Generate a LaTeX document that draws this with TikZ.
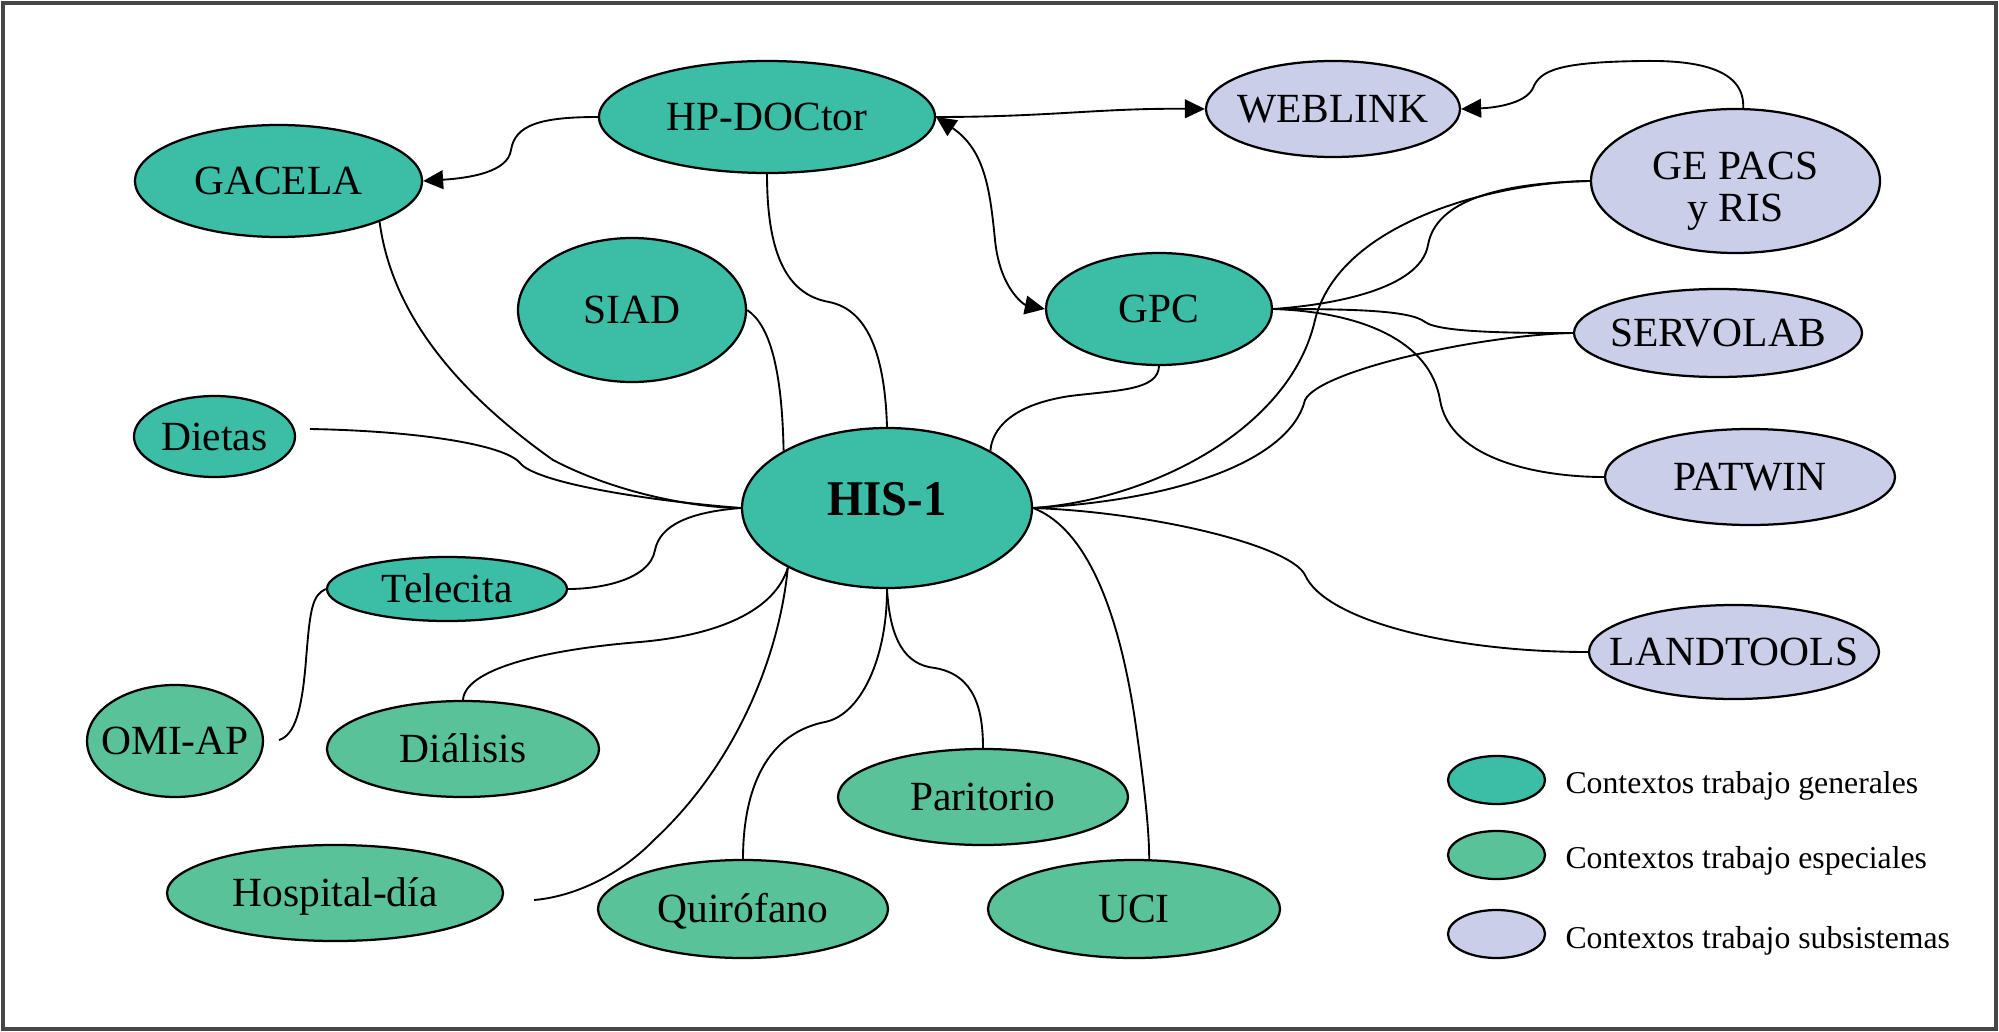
\documentclass[tikz,border=0pt]{standalone}
\usepackage{fontspec}
\setmainfont{Liberation Serif}
\newfontfamily\hisfont[FakeStretch=0.93]{Liberation Serif}
\usetikzlibrary{arrows.meta,shapes.geometric}
\definecolor{cgen}{RGB}{59,189,166}
\definecolor{cesp}{RGB}{90,194,153}
\definecolor{csub}{RGB}{203,206,233}
\definecolor{cframe}{RGB}{70,70,70}
\begin{document}
\begin{tikzpicture}[x=0.4pt,y=-0.4pt,
  ell/.style 2 args={ellipse,draw=black,line width=0.9pt,inner sep=0pt,
    minimum width=#1*0.8pt,minimum height=#2*0.8pt},
  gen/.style={fill=cgen}, esp/.style={fill=cesp}, sub/.style={fill=csub},
  lbl/.style={font=\fontsize{16.6pt}{19.9pt}\selectfont, text height=11pt, text depth=0pt},
  con/.style={draw=black, line width=0.75pt},
  tip/.style={-{Triangle[length=8pt,width=7.5pt]}},
  dtip/.style={{Triangle[length=8pt,width=7.5pt]}-{Triangle[length=8pt,width=7.5pt]}},
  leg/.style={font=\fontsize{12.7pt}{15pt}\selectfont, anchor=base west, inner sep=0pt}
]
\useasboundingbox (0,0) rectangle (1999,1032);
\fill[white] (0,0) rectangle (1999,1032);
\draw[cframe, line width=1.3pt] (3,3) rectangle (1996,1029);

% general contexts
\node[ell={168}{56}, gen, lbl] (hp) at (767,117) {\makebox[0pt]{HP-DOCtor}};
\node[ell={143.5}{56}, gen, lbl] (gacela) at (278.5,181) {\makebox[0pt]{GACELA}};
\node[ell={114}{72}, gen, lbl] (siad) at (632,310) {\makebox[0pt]{SIAD}};
\node[ell={113}{56}, gen, lbl] (gpc) at (1159,309) {\makebox[0pt]{GPC}};
\node[ell={80.5}{40.5}, gen, lbl] (dietas) at (214.5,436.5) {\makebox[0pt]{Dietas}};
\node[ell={145}{80}, gen, font=\hisfont\bfseries\fontsize{20pt}{24pt}\selectfont,
      text height=13.2pt, text depth=7.6pt] (his) at (887,508) {\makebox[0pt]{HIS-1}};
\node[ell={120}{32}, gen, lbl] (tel) at (447,589) {\makebox[0pt]{Telecita}};

% special contexts
\node[ell={88}{56}, esp, lbl] (omi) at (175,741) {\makebox[0pt]{OMI-AP}};
\node[ell={136}{48}, esp, lbl] (dial) at (463,749) {\makebox[0pt]{Diálisis}};
\node[ell={168}{48}, esp, lbl] (hosp) at (335,893) {\makebox[0pt]{Hospital-día}};
\node[ell={145}{49}, esp, lbl] (quir) at (743,909) {\makebox[0pt]{Quirófano}};
\node[ell={145}{48}, esp, lbl] (par) at (983,797) {\makebox[0pt]{Paritorio}};
\node[ell={146}{49}, esp, lbl] (uci) at (1134,909) {\makebox[0pt]{UCI}};

% subsystems
\node[ell={127}{48}, sub, lbl] (web) at (1333,109) {\makebox[0pt]{WEBLINK}};
\node[ell={144.5}{72}, sub, font=\fontsize{16.6pt}{16.6pt}\selectfont,
      text height=0pt, text depth=0.8pt] (ge) at (1735.5,181)
      {\makebox[0pt]{\smash{\begin{tabular}[t]{@{}c@{}}GE PACS\\y RIS\end{tabular}}}};
\node[ell={144}{44}, sub, lbl] (serv) at (1718,333) {\makebox[0pt]{SERVOLAB}};
\node[ell={145}{48}, sub, lbl] (pat) at (1750,477) {\makebox[0pt]{PATWIN}};
\node[ell={145}{47}, sub, lbl] (land) at (1734,652) {\makebox[0pt]{LANDTOOLS}};

% free ends
\coordinate (dietasEnd) at (310,429);
\coordinate (omiEnd) at (279,740);
\coordinate (hospEnd) at (534,900);

% arrows
\draw[con, tip] (hp.west) .. controls (540,117) and (515,125) .. (511,150)
  .. controls (508,172) and (470,178) .. (gacela.east);
\draw[con, tip] (hp.east) .. controls (1050,117) and (1100,108) .. (web.west);
\draw[con, dtip] (hp.east) .. controls (985,150) and (990,190) .. (995,240)
  .. controls (1000,290) and (1025,305) .. (gpc.west);
\draw[con, tip] (ge.84) .. controls (1745,70) and (1700,60) .. (1643,61)
  .. controls (1560,62) and (1540,70) .. (1533,88)
  .. controls (1525,105) and (1490,108) .. (web.east);

% links to HIS-1
\draw[con] (gacela.338) .. controls (390,300) and (440,380) .. (553,460)
  .. controls (620,495) and (700,508) .. (his.west);
\draw[con] (dietasEnd) .. controls (420,431) and (505,445) .. (520,463)
  .. controls (535,482) and (640,500) .. (his.west);
\draw[con] (siad.east) .. controls (770,325) and (782,370) .. (his.151);
\draw[con] (hp.south) .. controls (767,260) and (790,295) .. (829,302)
  .. controls (870,310) and (885,360) .. (his.north);
\draw[con] (gpc.south) .. controls (1158,390) and (1120,390) .. (1070,396)
  .. controls (1010,405) and (992,430) .. (his.29);
\draw[con] (his.west) .. controls (690,512) and (660,525) .. (655,550)
  .. controls (650,580) and (600,589) .. (tel.east);
\draw[con] (tel.west) .. controls (312,595) and (310,610) .. (306,660)
  .. controls (302,710) and (295,735) .. (omiEnd);
\draw[con] (his.211) .. controls (775,610) and (720,635) .. (640,642)
  .. controls (540,650) and (465,670) .. (dial.north);
\draw[con] (his.211) .. controls (780,650) and (740,760) .. (654,840)
  .. controls (610,885) and (560,898) .. (hospEnd);
\draw[con] (his.south) .. controls (887,660) and (860,715) .. (825,722)
  .. controls (760,735) and (743,800) .. (quir.north);
\draw[con] (his.south) .. controls (890,640) and (905,665) .. (935,668)
  .. controls (975,675) and (983,710) .. (par.north);
\draw[con] (his.east) .. controls (1090,530) and (1120,620) .. (1135,720)
  .. controls (1145,790) and (1149,830) .. (uci.73);
\draw[con] (his.east) .. controls (1150,500) and (1290,430) .. (1315,320)
  .. controls (1340,220) and (1500,182) .. (ge.west);
\draw[con] (his.east) .. controls (1180,500) and (1290,460) .. (1305,400)
  .. controls (1320,370) and (1480,335) .. (serv.west);
\draw[con] (his.east) .. controls (1150,512) and (1290,545) .. (1305,575)
  .. controls (1325,620) and (1450,652) .. (land.west);

% links from GPC
\draw[con] (gpc.east) .. controls (1330,305) and (1420,290) .. (1428,245)
  .. controls (1436,200) and (1500,183) .. (ge.west);
\draw[con] (gpc.east) .. controls (1350,309) and (1410,310) .. (1425,322)
  .. controls (1440,333) and (1520,333) .. (serv.west);
\draw[con] (gpc.east) .. controls (1360,312) and (1430,340) .. (1440,400)
  .. controls (1450,460) and (1540,477) .. (pat.west);

% legend
\node[ell={48.5}{24}, gen] (lg1) at (1496.5,780) {};
\node[ell={48.5}{24}, esp] (lg2) at (1496.5,855) {};
\node[ell={48.5}{24}, sub] (lg3) at (1496.5,934) {};
\node[leg] (lt1) at (1565,793) {Contextos trabajo generales};
\node[leg] (lt2) at (1565,868) {Contextos trabajo especiales};
\node[leg] (lt3) at (1565,948) {Contextos trabajo subsistemas};
\end{tikzpicture}
\end{document}
